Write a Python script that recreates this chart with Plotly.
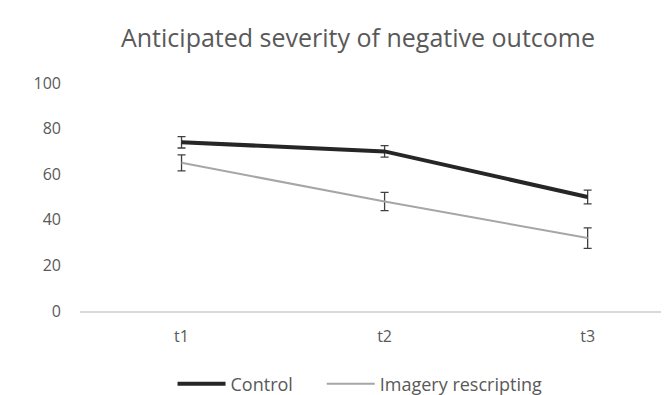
import plotly.graph_objects as go

categories = ["t1", "t2", "t3"]
control = [74, 70, 50]
control_err = [2.5, 2.5, 3]
imagery = [65, 48, 32]
imagery_err = [3.5, 4, 4.5]
y_ticks = [0, 20, 40, 60, 80, 100]

fig = go.Figure()
fig.add_trace(go.Scatter(
    x=categories, y=control, mode="lines", name="Control", legend="legend",
    line=dict(color="#262626", width=4),
    error_y=dict(type="data", array=control_err, visible=True,
                 color="#404040", thickness=1.3, width=4),
))
fig.add_trace(go.Scatter(
    x=categories, y=imagery, mode="lines", name="Imagery rescripting", legend="legend2",
    line=dict(color="#a6a6a6", width=2),
    error_y=dict(type="data", array=imagery_err, visible=True,
                 color="#404040", thickness=1.3, width=4),
))

legend_style = dict(orientation="h", xanchor="left", y=-0.32, yanchor="middle",
                    itemwidth=48, font=dict(size=18, color="#595959"),
                    bgcolor="rgba(0,0,0,0)")

fig.update_layout(
    width=669, height=395,
    margin=dict(l=72, r=0, t=75, b=90),
    paper_bgcolor="white", plot_bgcolor="white",
    font=dict(family="Open Sans", color="#595959", size=16),
    title=dict(text="Anticipated severity of negative outcome",
               x=350/669, xanchor="center", y=1 - 30/395, yanchor="middle",
               font=dict(size=25, color="#595959")),
    showlegend=True,
    legend=dict(x=0.155, **legend_style),
    legend2=dict(x=0.405, **legend_style),
    xaxis=dict(type="category", range=[-0.5, 2.44], showgrid=False,
               showline=True, linecolor="#d9d9d9", linewidth=1.5,
               ticks="", ticklabelstandoff=10,
               tickfont=dict(size=16, color="#595959")),
    yaxis=dict(range=[0, 100], tickvals=y_ticks, showgrid=False, zeroline=False,
               showline=False, ticks="", ticklabelstandoff=18,
               tickfont=dict(size=16, color="#595959")),
)

fig.write_html("out.html")
